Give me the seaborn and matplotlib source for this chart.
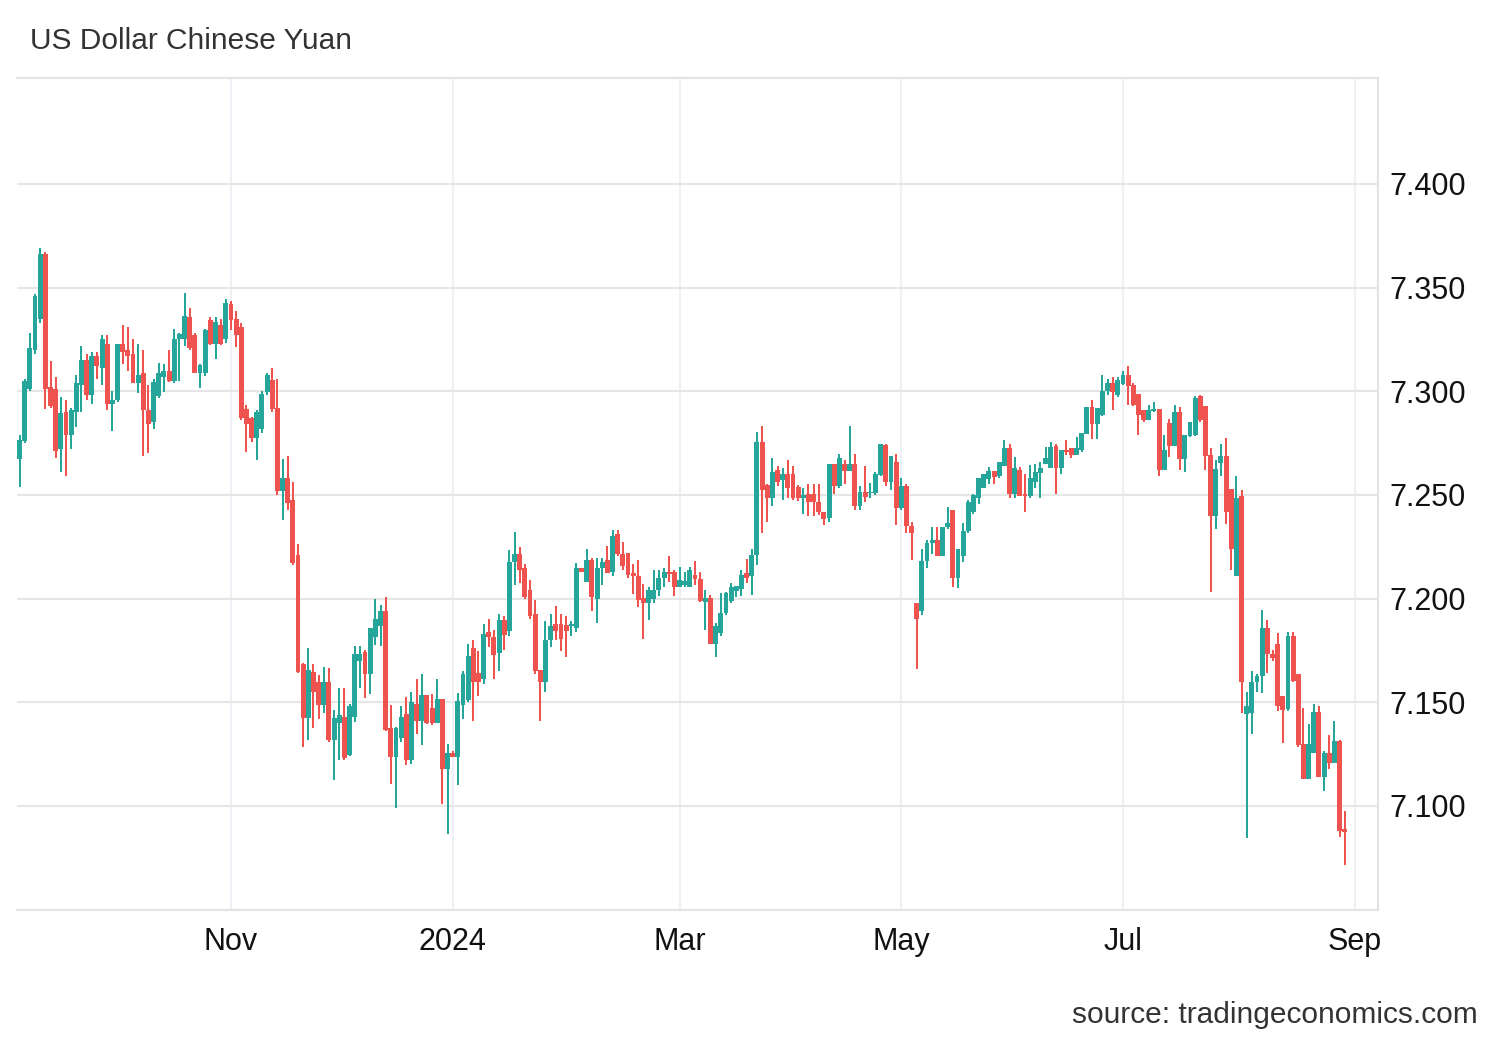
import numpy as np
import pandas as pd
import matplotlib
matplotlib.use("Agg")
import matplotlib.pyplot as plt
from matplotlib.ticker import FormatStrFormatter
import seaborn as sns

# ---------------- data (daily USD/CNY candles) ----------------
start_date = "2023-09-05"

opens = [
    7.2675, 7.2760, 7.3010, 7.3200, 7.3350, 7.3660, 7.3020, 7.3010, 7.2720, 7.2900,
    7.2790, 7.2900, 7.3030, 7.3150, 7.2980, 7.3170, 7.3110, 7.3230, 7.2940, 7.2960,
    7.3230, 7.3200, 7.3180, 7.3040, 7.3090, 7.2910, 7.2853, 7.2975, 7.3067, 7.3097,
    7.3050, 7.3250, 7.3254, 7.3360, 7.3273, 7.3090, 7.3090, 7.3342, 7.3230, 7.3321,
    7.3254, 7.3423, 7.3350, 7.3310, 7.2916, 7.2870, 7.2775, 7.2818, 7.2995, 7.3053,
    7.2920, 7.2520, 7.2580, 7.2475, 7.2210, 7.1683, 7.1423, 7.1648, 7.1600, 7.1487,
    7.1600, 7.1318, 7.1400, 7.1431, 7.1246, 7.1430, 7.1700, 7.1741, 7.1635, 7.1815,
    7.1870, 7.1940, 7.1375, 7.1238, 7.1327, 7.1442, 7.1220, 7.1494, 7.1410, 7.1533,
    7.1474, 7.1400, 7.1514, 7.1180, 7.1254, 7.1238, 7.1485, 7.1510, 7.1760, 7.1640,
    7.1610, 7.1840, 7.1817, 7.1738, 7.1898, 7.1842, 7.2178, 7.2213, 7.2149, 7.2040,
    7.1926, 7.1658, 7.1600, 7.1800, 7.1878, 7.1878, 7.1874, 7.1869, 7.1860, 7.2146,
    7.2080, 7.2186, 7.2000, 7.2146, 7.2186, 7.2130, 7.2310, 7.2214, 7.2222, 7.2125,
    7.2109, 7.2002, 7.1978, 7.2000, 7.2042, 7.2098, 7.2130, 7.2130, 7.2054, 7.2066,
    7.2058, 7.2114, 7.2094, 7.1985, 7.2005, 7.1783, 7.1834, 7.1929, 7.1989, 7.2037,
    7.2045, 7.2124, 7.2107, 7.2210, 7.2757, 7.2550, 7.2487, 7.2622, 7.2573, 7.2600,
    7.2600, 7.2540, 7.2484, 7.2503, 7.2503, 7.2468, 7.2419, 7.2390, 7.2650, 7.2541,
    7.2649, 7.2614, 7.2649, 7.2448, 7.2513, 7.2508, 7.2508, 7.2596, 7.2741, 7.2562,
    7.2659, 7.2438, 7.2541, 7.2351, 7.1980, 7.1940, 7.2179, 7.2269, 7.2281, 7.2205,
    7.2346, 7.2425, 7.2097, 7.2205, 7.2325, 7.2420, 7.2484, 7.2532, 7.2577, 7.2615,
    7.2593, 7.2641, 7.2724, 7.2503, 7.2620, 7.2503, 7.2497, 7.2561, 7.2604, 7.2647,
    7.2628, 7.2737, 7.2628, 7.2716, 7.2727, 7.2695, 7.2716, 7.2792, 7.2925, 7.2840,
    7.2885, 7.3000, 7.3042, 7.2984, 7.3037, 7.3080, 7.3032, 7.2989, 7.2908, 7.2860,
    7.2904, 7.2916, 7.2619, 7.2849, 7.2736, 7.2900, 7.2675, 7.2785, 7.2791, 7.2977,
    7.2929, 7.2695, 7.2399, 7.2656, 7.2688, 7.2531, 7.2109, 7.2495, 7.1442, 7.1449,
    7.1596, 7.1628, 7.1857, 7.1734, 7.1782, 7.1529, 7.1468, 7.1821, 7.1638, 7.1301,
    7.1128, 7.1256, 7.1455, 7.1141, 7.1253, 7.1208, 7.1312, 7.0888,
]

highs = [
    7.2791, 7.3060, 7.3280, 7.3470, 7.3690, 7.3670, 7.3148, 7.3069, 7.2973, 7.2960,
    7.2920, 7.3080, 7.3220, 7.3180, 7.3190, 7.3190, 7.3270, 7.3270, 7.3000, 7.3230,
    7.3320, 7.3310, 7.3250, 7.3230, 7.3200, 7.3030, 7.3060, 7.3138, 7.3130, 7.3198,
    7.3302, 7.3280, 7.3476, 7.3400, 7.3280, 7.3130, 7.3300, 7.3360, 7.3359, 7.3350,
    7.3447, 7.3435, 7.3387, 7.3330, 7.2932, 7.2875, 7.2910, 7.3000, 7.3087, 7.3110,
    7.3060, 7.2675, 7.2690, 7.2560, 7.2265, 7.1690, 7.1760, 7.1683, 7.1630, 7.1672,
    7.1664, 7.1463, 7.1570, 7.1568, 7.1490, 7.1773, 7.1773, 7.1752, 7.1860, 7.2000,
    7.1970, 7.2009, 7.1487, 7.1380, 7.1480, 7.1527, 7.1551, 7.1610, 7.1638, 7.1536,
    7.1540, 7.1610, 7.1514, 7.1300, 7.1266, 7.1546, 7.1650, 7.1780, 7.1800, 7.1746,
    7.1878, 7.1900, 7.1850, 7.1926, 7.1914, 7.2234, 7.2320, 7.2250, 7.2166, 7.2090,
    7.1994, 7.1658, 7.1890, 7.1926, 7.1965, 7.1926, 7.1914, 7.1890, 7.2170, 7.2146,
    7.2240, 7.2194, 7.2194, 7.2194, 7.2253, 7.2330, 7.2330, 7.2274, 7.2222, 7.2166,
    7.2186, 7.2070, 7.2058, 7.2138, 7.2138, 7.2146, 7.2205, 7.2138, 7.2154, 7.2130,
    7.2154, 7.2182, 7.2130, 7.2040, 7.2016, 7.1880, 7.2026, 7.2030, 7.2075, 7.2060,
    7.2140, 7.2192, 7.2237, 7.2805, 7.2834, 7.2555, 7.2679, 7.2639, 7.2630, 7.2669,
    7.2638, 7.2550, 7.2532, 7.2552, 7.2552, 7.2552, 7.2420, 7.2650, 7.2650, 7.2698,
    7.2669, 7.2834, 7.2698, 7.2541, 7.2638, 7.2557, 7.2610, 7.2747, 7.2747, 7.2687,
    7.2698, 7.2581, 7.2552, 7.2370, 7.1980, 7.2240, 7.2285, 7.2346, 7.2346, 7.2346,
    7.2443, 7.2425, 7.2237, 7.2367, 7.2476, 7.2505, 7.2580, 7.2600, 7.2636, 7.2615,
    7.2657, 7.2764, 7.2744, 7.2684, 7.2636, 7.2599, 7.2644, 7.2647, 7.2657, 7.2732,
    7.2753, 7.2744, 7.2716, 7.2764, 7.2727, 7.2780, 7.2801, 7.2925, 7.2957, 7.2917,
    7.3080, 7.3060, 7.3069, 7.3069, 7.3100, 7.3122, 7.3042, 7.2989, 7.2908, 7.2936,
    7.2949, 7.2916, 7.2791, 7.2868, 7.2936, 7.2924, 7.2791, 7.2852, 7.2977, 7.2984,
    7.2929, 7.2727, 7.2667, 7.2748, 7.2775, 7.2531, 7.2592, 7.2523, 7.1550, 7.1650,
    7.1638, 7.1946, 7.1898, 7.1750, 7.1833, 7.1529, 7.1841, 7.1841, 7.1638, 7.1473,
    7.1397, 7.1494, 7.1484, 7.1264, 7.1340, 7.1409, 7.1320, 7.0976,
]

lows = [
    7.2538, 7.2750, 7.3000, 7.3180, 7.3330, 7.2916, 7.2920, 7.2680, 7.2611, 7.2590,
    7.2723, 7.2830, 7.2900, 7.2960, 7.2940, 7.3060, 7.3030, 7.2910, 7.2810, 7.2950,
    7.3130, 7.3100, 7.3040, 7.2990, 7.2690, 7.2700, 7.2820, 7.2966, 7.2995, 7.3045,
    7.3040, 7.3050, 7.3219, 7.3200, 7.3090, 7.3016, 7.3074, 7.3225, 7.3158, 7.3222,
    7.3235, 7.3294, 7.3214, 7.2860, 7.2707, 7.2755, 7.2667, 7.2800, 7.2980, 7.2900,
    7.2500, 7.2378, 7.2427, 7.2160, 7.1640, 7.1286, 7.1318, 7.1375, 7.1420, 7.1447,
    7.1310, 7.1126, 7.1222, 7.1220, 7.1240, 7.1406, 7.1570, 7.1520, 7.1540, 7.1775,
    7.1770, 7.1360, 7.1106, 7.0988, 7.1310, 7.1195, 7.1200, 7.1346, 7.1294, 7.1394,
    7.1390, 7.1400, 7.1010, 7.0866, 7.1238, 7.1100, 7.1420, 7.1500, 7.1410, 7.1530,
    7.1590, 7.1766, 7.1610, 7.1650, 7.1750, 7.1820, 7.2066, 7.2074, 7.2000, 7.1900,
    7.1634, 7.1410, 7.1550, 7.1766, 7.1800, 7.1746, 7.1718, 7.1820, 7.1840, 7.2130,
    7.2080, 7.1938, 7.1880, 7.2066, 7.2125, 7.2110, 7.2205, 7.2138, 7.2100, 7.2022,
    7.1958, 7.1805, 7.1898, 7.1978, 7.2013, 7.2058, 7.2082, 7.2013, 7.2054, 7.2058,
    7.2054, 7.2065, 7.1985, 7.1850, 7.1780, 7.1718, 7.1820, 7.1919, 7.1980, 7.2010,
    7.2013, 7.2075, 7.2016, 7.2162, 7.2318, 7.2370, 7.2448, 7.2545, 7.2476, 7.2484,
    7.2476, 7.2470, 7.2406, 7.2400, 7.2400, 7.2403, 7.2357, 7.2370, 7.2505, 7.2535,
    7.2552, 7.2614, 7.2427, 7.2427, 7.2468, 7.2484, 7.2498, 7.2590, 7.2541, 7.2524,
    7.2357, 7.2427, 7.2318, 7.2184, 7.1659, 7.1920, 7.2146, 7.2213, 7.2205, 7.2205,
    7.2338, 7.2054, 7.2050, 7.2178, 7.2318, 7.2410, 7.2455, 7.2532, 7.2551, 7.2551,
    7.2583, 7.2640, 7.2484, 7.2487, 7.2497, 7.2417, 7.2487, 7.2532, 7.2487, 7.2647,
    7.2628, 7.2503, 7.2600, 7.2692, 7.2676, 7.2695, 7.2705, 7.2792, 7.2772, 7.2772,
    7.2880, 7.2980, 7.2908, 7.2973, 7.3030, 7.2933, 7.2929, 7.2791, 7.2852, 7.2860,
    7.2900, 7.2592, 7.2619, 7.2683, 7.2736, 7.2619, 7.2611, 7.2780, 7.2785, 7.2852,
    7.2619, 7.2033, 7.2338, 7.2592, 7.2362, 7.2137, 7.2109, 7.1446, 7.0843, 7.1345,
    7.1550, 7.1545, 7.1641, 7.1700, 7.1457, 7.1304, 7.1457, 7.1600, 7.1285, 7.1128,
    7.1128, 7.1256, 7.1141, 7.1072, 7.1176, 7.1208, 7.0852, 7.0715,
]

closes = [
    7.2764, 7.3050, 7.3210, 7.3460, 7.3660, 7.3010, 7.2930, 7.2710, 7.2897, 7.2790,
    7.2910, 7.3040, 7.3150, 7.2980, 7.3170, 7.3120, 7.3250, 7.2940, 7.2960, 7.3230,
    7.3190, 7.3170, 7.3040, 7.3080, 7.2910, 7.2840, 7.3046, 7.3090, 7.3096, 7.3050,
    7.3254, 7.3278, 7.3362, 7.3210, 7.3090, 7.3129, 7.3294, 7.3230, 7.3334, 7.3230,
    7.3428, 7.3342, 7.3273, 7.2871, 7.2840, 7.2774, 7.2900, 7.2989, 7.3077, 7.2916,
    7.2520, 7.2580, 7.2460, 7.2170, 7.1648, 7.1423, 7.1655, 7.1550, 7.1487, 7.1600,
    7.1318, 7.1423, 7.1439, 7.1230, 7.1480, 7.1731, 7.1735, 7.1635, 7.1860, 7.1900,
    7.1940, 7.1366, 7.1238, 7.1375, 7.1430, 7.1222, 7.1500, 7.1410, 7.1533, 7.1400,
    7.1400, 7.1514, 7.1180, 7.1254, 7.1238, 7.1506, 7.1638, 7.1725, 7.1600, 7.1600,
    7.1830, 7.1814, 7.1728, 7.1898, 7.1826, 7.2178, 7.2213, 7.2138, 7.2006, 7.1914,
    7.1650, 7.1600, 7.1800, 7.1869, 7.1842, 7.1805, 7.1842, 7.1874, 7.2146, 7.2130,
    7.2186, 7.2006, 7.2146, 7.2178, 7.2125, 7.2300, 7.2214, 7.2157, 7.2114, 7.2109,
    7.1994, 7.1978, 7.2042, 7.2042, 7.2098, 7.2130, 7.2118, 7.2054, 7.2090, 7.2085,
    7.2138, 7.2094, 7.1989, 7.2005, 7.1783, 7.1870, 7.1929, 7.2026, 7.2054, 7.2059,
    7.2114, 7.2098, 7.2211, 7.2757, 7.2524, 7.2487, 7.2610, 7.2562, 7.2600, 7.2532,
    7.2484, 7.2484, 7.2500, 7.2468, 7.2468, 7.2419, 7.2383, 7.2649, 7.2541, 7.2679,
    7.2614, 7.2649, 7.2448, 7.2513, 7.2492, 7.2516, 7.2600, 7.2747, 7.2562, 7.2687,
    7.2438, 7.2541, 7.2351, 7.2318, 7.1903, 7.2179, 7.2270, 7.2281, 7.2205, 7.2346,
    7.2367, 7.2097, 7.2237, 7.2325, 7.2464, 7.2500, 7.2580, 7.2600, 7.2615, 7.2588,
    7.2657, 7.2724, 7.2503, 7.2628, 7.2497, 7.2497, 7.2580, 7.2609, 7.2628, 7.2676,
    7.2732, 7.2628, 7.2716, 7.2705, 7.2695, 7.2724, 7.2801, 7.2925, 7.2840, 7.2917,
    7.3000, 7.3042, 7.2997, 7.3053, 7.3080, 7.3026, 7.2936, 7.2884, 7.2860, 7.2908,
    7.2916, 7.2619, 7.2716, 7.2736, 7.2900, 7.2675, 7.2791, 7.2852, 7.2968, 7.2860,
    7.2688, 7.2399, 7.2627, 7.2688, 7.2418, 7.2241, 7.2483, 7.1599, 7.1481, 7.1596,
    7.1628, 7.1857, 7.1734, 7.1715, 7.1484, 7.1465, 7.1821, 7.1601, 7.1292, 7.1128,
    7.1301, 7.1455, 7.1141, 7.1253, 7.1208, 7.1312, 7.0880, 7.0872,
]

month_labels = ["Nov", "2024", "Mar", "May", "Jul", "Sep"]
month_starts = ["2023-11-01", "2024-01-01", "2024-03-01", "2024-05-01", "2024-07-01", "2024-09-02"]
y_ticks = [7.100, 7.150, 7.200, 7.250, 7.300, 7.350, 7.400]

title_text = "US Dollar Chinese Yuan"
source_text = "source: tradingeconomics.com"

# ---------------- frame ----------------
n = len(closes)
df = pd.DataFrame({
    "date": pd.bdate_range(start_date, periods=n),
    "open": opens, "high": highs, "low": lows, "close": closes,
})
df["pos"] = np.arange(n)
df["dir"] = np.where(df["close"] >= df["open"], "up", "down")

UP = "#26a69a"
DOWN = "#ef5350"
palette = {"up": UP, "down": DOWN}

sns.set_theme(style="white")
plt.rcParams["font.family"] = ["Liberation Sans", "DejaVu Sans"]

W, H = 1500, 1040
fig = plt.figure(figsize=(W / 100, H / 100), dpi=100)
ax = fig.add_axes([17 / W, 1 - 910 / H, (1378 - 17) / W, (910 - 78) / H])

colors = df["dir"].map(palette).to_numpy()

# wicks
ax.vlines(df["pos"], df["low"], df["high"], colors=colors, linewidth=1.45, zorder=3)
# bodies
body_bottom = np.minimum(df["open"], df["close"])
body_height = np.maximum((df["close"] - df["open"]).abs(), 0.0008)
ax.bar(df["pos"], body_height, bottom=body_bottom, width=0.95,
       color=colors, linewidth=0, zorder=4)

# axes limits
ax.set_ylim(7.0498, 7.4511)
ax.set_xlim(-0.5, 263.46)

# ticks
tick_pos = [int(np.busday_count(start_date, d)) for d in month_starts]
ax.set_xticks(tick_pos)
ax.set_xticklabels(month_labels)
ax.set_yticks(y_ticks)
ax.yaxis.set_major_formatter(FormatStrFormatter("%.3f"))
ax.yaxis.tick_right()
ax.tick_params(axis="y", length=0, pad=8, labelsize=22, labelcolor="#111111")
ax.tick_params(axis="x", length=0, pad=12.5, labelsize=22, labelcolor="#111111")

# grid
ax.set_axisbelow(True)
ax.yaxis.grid(True, color="#e6e6e6", linewidth=1.5)
ax.xaxis.grid(True, color="#edf1f5", linewidth=1.5)

for side in ["top", "bottom", "right"]:
    ax.spines[side].set_visible(True)
    ax.spines[side].set_color("#e3e3e3")
    ax.spines[side].set_linewidth(1.5)
ax.spines["left"].set_visible(False)

fig.text(30 / W, 1 - 41 / H, title_text, ha="left", va="center",
         fontsize=21.5, color="#333333")
fig.text(1478 / W, 1 - 1015 / H, source_text, ha="right", va="center",
         fontsize=21.5, color="#333333")

fig.savefig("out.png", dpi=100, facecolor="white")
